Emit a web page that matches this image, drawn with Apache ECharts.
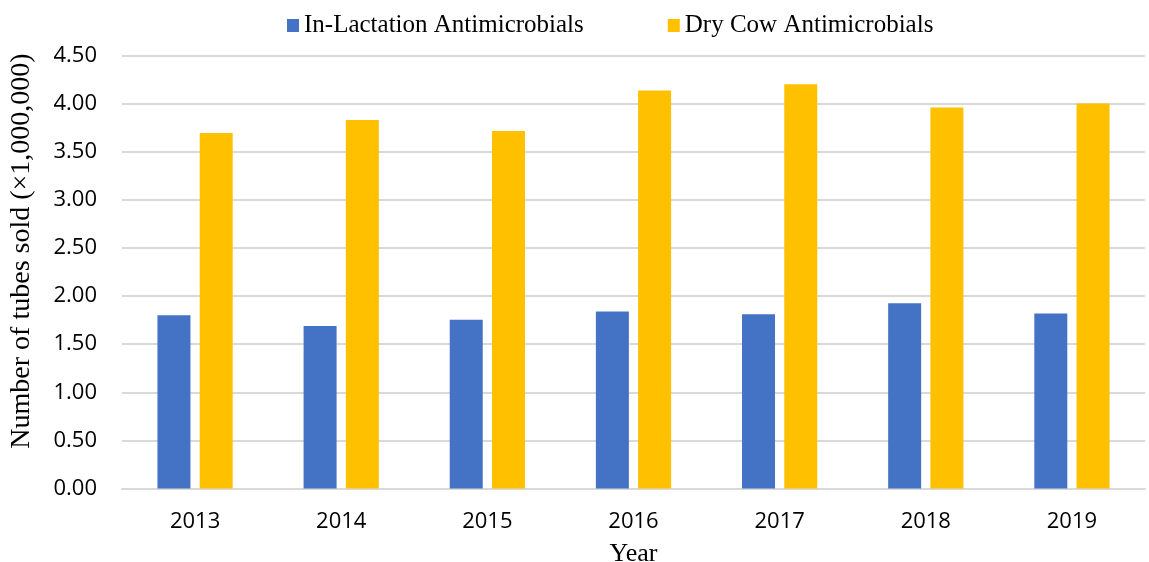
<!DOCTYPE html>
<html><head><meta charset="utf-8">
<script src="https://cdn.jsdelivr.net/npm/echarts@6/dist/echarts.min.js"></script>
<style>html,body{margin:0;padding:0;background:#fff}#c{width:1149px;height:562px}</style>
</head><body><div id="c"></div>
<script>
const years = ['2013','2014','2015','2016','2017','2018','2019'];
const inLactation = [1.80, 1.69, 1.755, 1.84, 1.81, 1.925, 1.82];
const dryCow = [3.695, 3.83, 3.716, 4.135, 4.20, 3.96, 4.00];
const seriesNames = ['In-Lactation Antimicrobials', 'Dry Cow Antimicrobials'];

const chart = echarts.init(document.getElementById('c'));
chart.setOption({
  animation: false,
  legend: {
    top: 8, left: 282, itemWidth: 12, itemHeight: 13, itemGap: 84,
    icon: 'rect',
    textStyle: {fontFamily: 'Liberation Serif', fontSize: 25, color: '#000'},
    data: seriesNames
  },
  grid: {left: 122, right: 4, top: 55.5, bottom: 73.5, containLabel: false, outerBoundsMode: 'none'},
  xAxis: {
    type: 'category', data: years,
    name: 'Year', nameLocation: 'middle', nameGap: 53,
    nameTextStyle: {fontFamily: 'Liberation Serif', fontSize: 26, color: '#000'},
    axisLine: {lineStyle: {color: '#d9d9d9', width: 2}},
    axisTick: {show: false},
    axisLabel: {fontFamily: 'Open Sans', fontSize: 22, color: '#000', margin: 22}
  },
  yAxis: {
    type: 'value', min: 0, max: 4.5, interval: 0.5,
    name: 'Number of tubes sold (×1,000,000)', nameLocation: 'middle', nameGap: 86,
    nameTextStyle: {fontFamily: 'Liberation Serif', fontSize: 28, color: '#000', padding: [0, 0, 0, 42]},
    axisLine: {show: false}, axisTick: {show: false},
    splitLine: {lineStyle: {color: '#d9d9d9', width: 2}},
    axisLabel: {fontFamily: 'Open Sans', fontSize: 22, color: '#000', margin: 25,
      formatter: v => v.toFixed(2)}
  },
  series: [
    {name: seriesNames[0], type: 'bar', data: inLactation, barWidth: 33, barGap: '28%',
     itemStyle: {color: '#4472c4'}},
    {name: seriesNames[1], type: 'bar', data: dryCow, barWidth: 33,
     itemStyle: {color: '#ffc000'}}
  ]
});
</script></body></html>
